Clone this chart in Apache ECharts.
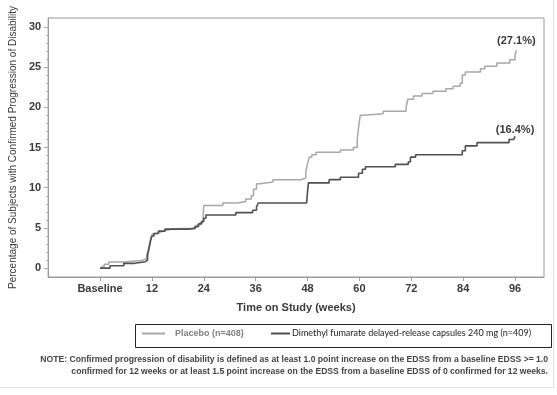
<!DOCTYPE html>
<html>
<head>
<meta charset="utf-8">
<script src="https://cdn.jsdelivr.net/npm/echarts@6/dist/echarts.min.js"></script>
<style>
html,body{margin:0;padding:0;background:#fff;}
#c{width:557px;height:395px;}
</style>
</head>
<body>
<div id="c"></div>
<script>
// ---- data (weeks, cumulative % with confirmed progression) ----
const xTickValues = [0, 12, 24, 36, 48, 60, 72, 84, 96];
const xTickLabels = ['Baseline', '12', '24', '36', '48', '60', '72', '84', '96'];
const yTickValues = [0, 5, 10, 15, 20, 25, 30];
const yMinorTicks = [0,1,2,3,4,5,6,7,8,9,10,11,12,13,14,15,16,17,18,19,20,21,22,23,24,25,26,27,28,29,30];

const placeboName = 'Placebo (n=408)';
const dmfName = 'Dimethyl fumarate delayed-release capsules 240 mg (n=409)';

const placeboWeeks = [0,0.5,1,2,5.5,9.5,10,10.8,11.2,11.5,11.8,12.2,13,14,15.5,17,21.5,22.5,23.2,23.8,24,28.4,31.8,33.7,35,35.5,36.2,37,40,46.5,47.6,48,48.4,49,50,55.6,58.6,59.5,59.8,60.2,61,65.5,70.8,71.2,72.5,74.5,77,80,81.7,83.3,83.8,84.5,88,89,91.8,94.8,96,96.3];
const placeboValues = [0,0.25,0.5,0.75,0.95,1.0,1.2,1.6,2.4,3.2,3.9,4.3,4.5,4.7,4.9,4.95,5.1,5.4,5.7,6.0,7.8,8.1,8.3,8.6,9.0,9.8,10.5,10.7,11.0,11.2,12.0,13.0,13.8,14.1,14.4,14.7,15.0,16.0,17.5,19.0,19.2,19.5,20.0,21.0,21.4,21.7,22.0,22.3,22.6,23.0,24.0,24.4,24.8,25.1,25.5,25.9,26.5,27.1];

const dmfWeeks = [0,2.3,5.5,8,10.5,11,11.4,11.7,12,12.5,13.5,15,20.5,22,22.8,23.5,24,24.5,31.4,35.3,36.2,36.6,47.8,48,48.2,53,55.6,59.8,60.7,61.4,68.3,71.3,71.8,73,83.8,84.5,87.2,94.6,95.7,96];
const dmfValues = [0,0.3,0.6,0.8,1.0,1.6,2.6,3.4,4.0,4.3,4.6,4.85,4.95,5.2,5.5,5.8,6.2,6.6,6.9,7.2,7.6,8.1,8.1,9.5,10.6,11.0,11.3,11.8,12.3,12.6,12.9,13.2,13.8,14.1,14.6,15.2,15.6,16.0,16.2,16.4];

const placeboEndLabel = '(27.1%)';
const dmfEndLabel = '(16.4%)';

const noteLine1 = 'NOTE: Confirmed progression of disability is defined as at least 1.0 point increase on the EDSS from a baseline EDSS >= 1.0';
const noteLine2 = 'confirmed for 12 weeks or at least 1.5 point increase on the EDSS from a baseline EDSS of 0 confirmed for 12 weeks.';

function pairs(xs, ys) { return xs.map((x, i) => [x, ys[i]]); }
function endMark(xs, ys, text, dist) {
  const n = xs.length - 1;
  return {
    symbol: 'circle', symbolSize: 0, silent: true, animation: false,
    label: { show: true, position: 'top', distance: dist, fontSize: 11, fontWeight: 'bold', color: '#3a3a3a', fontFamily: FONT },
    data: [{ coord: [xs[n], ys[n]], value: text, label: { formatter: text } }]
  };
}

const FONT = '"Liberation Sans", Arial, Helvetica, sans-serif';
const chart = echarts.init(document.getElementById('c'), null, { renderer: 'canvas' });

chart.setOption({
  animation: false,
  backgroundColor: '#ffffff',
  textStyle: { fontFamily: FONT },
  grid: { left: 47, right: 13, top: 18, bottom: 118, show: true, borderColor: '#9a9a9a', borderWidth: 1, backgroundColor: 'transparent' },
  xAxis: {
    type: 'value', min: -12, max: 102.7,
    name: 'Time on Study (weeks)', nameLocation: 'middle', nameGap: 25,
    nameTextStyle: { fontSize: 11, fontWeight: 'bold', color: '#3a3a3a', fontFamily: FONT },
    axisLine: { show: true, onZero: false, lineStyle: { color: '#9a9a9a', width: 1 } },
    axisTick: { show: true, length: 4, lineStyle: { color: '#9a9a9a' }, customValues: xTickValues },
    axisLabel: {
      show: true, margin: 6, fontSize: 11, fontWeight: 'bold', color: '#3a3a3a', fontFamily: FONT,
      customValues: xTickValues,
      formatter: v => { const i = xTickValues.indexOf(v); return i >= 0 ? xTickLabels[i] : ''; }
    },
    splitLine: { show: false }
  },
  yAxis: [{
    type: 'value', min: -1.1, max: 31.1,
    name: 'Percentage of Subjects with Confirmed Progression of Disability',
    nameLocation: 'middle', nameGap: 30, nameRotate: 90,
    nameTextStyle: { fontSize: 10, color: '#3a3a3a', fontFamily: FONT },
    axisLine: { show: true, onZero: false, lineStyle: { color: '#9a9a9a', width: 1 } },
    axisTick: { show: true, length: 4, lineStyle: { color: '#9a9a9a' }, customValues: yTickValues },
    axisLabel: { show: true, margin: 7, fontSize: 11, fontWeight: 'bold', color: '#3a3a3a', fontFamily: FONT, customValues: yTickValues },
    splitLine: { show: false }
  }, {
    type: 'value', min: -1.1, max: 31.1, position: 'left', offset: 0,
    axisLine: { show: false, onZero: false },
    axisTick: { show: true, length: 2, lineStyle: { color: '#b0b0b0' }, customValues: yMinorTicks },
    axisLabel: { show: false },
    splitLine: { show: false }
  }],
  legend: [{
    left: 142, top: 329, padding: 0, itemWidth: 23, itemHeight: 2, itemGap: 0, icon: 'rect',
    data: [{ name: placeboName }],
    textStyle: { fontSize: 9, fontWeight: 'bold', color: '#808080', fontFamily: FONT, padding: [0, 0, 0, 5] }
  }, {
    left: 271, top: 329, padding: 0, itemWidth: 19, itemHeight: 2, itemGap: 0, icon: 'rect',
    data: [{ name: dmfName }],
    textStyle: { fontSize: 9, color: '#222', fontFamily: 'Lato, "Open Sans", sans-serif', padding: [0, 0, 0, -3] }
  }],
  series: [{
    name: placeboName, type: 'line', step: 'end', symbol: 'none', z: 2,
    lineStyle: { color: '#a8a8a8', width: 1.5 }, itemStyle: { color: '#a8a8a8' },
    data: pairs(placeboWeeks, placeboValues),
    markPoint: endMark(placeboWeeks, placeboValues, placeboEndLabel, 4)
  }, {
    name: dmfName, type: 'line', step: 'end', symbol: 'none', z: 3,
    lineStyle: { color: '#505050', width: 1.6 }, itemStyle: { color: '#505050' },
    data: pairs(dmfWeeks, dmfValues),
    markPoint: endMark(dmfWeeks, dmfValues, dmfEndLabel, 1)
  }],
  graphic: [
    { type: 'rect', left: 133, top: 322, shape: { width: 416, height: 23 }, style: { fill: 'none', stroke: '#222', lineWidth: 1 }, silent: true },
    { type: 'text', right: 9, top: 355, style: { text: noteLine1, fontSize: 8.6, fontWeight: 'bold', fill: '#444', fontFamily: FONT, textAlign: 'right' } },
    { type: 'text', right: 9, top: 367, style: { text: noteLine2, fontSize: 8.6, fontWeight: 'bold', fill: '#444', fontFamily: FONT, textAlign: 'right' } },
    { type: 'line', shape: { x1: 553.5, y1: 0, x2: 553.5, y2: 387 }, style: { stroke: '#e2e2e2', lineWidth: 1 }, silent: true },
    { type: 'line', shape: { x1: 0, y1: 387.5, x2: 554, y2: 387.5 }, style: { stroke: '#e2e2e2', lineWidth: 1 }, silent: true }
  ]
});
</script>
</body>
</html>
